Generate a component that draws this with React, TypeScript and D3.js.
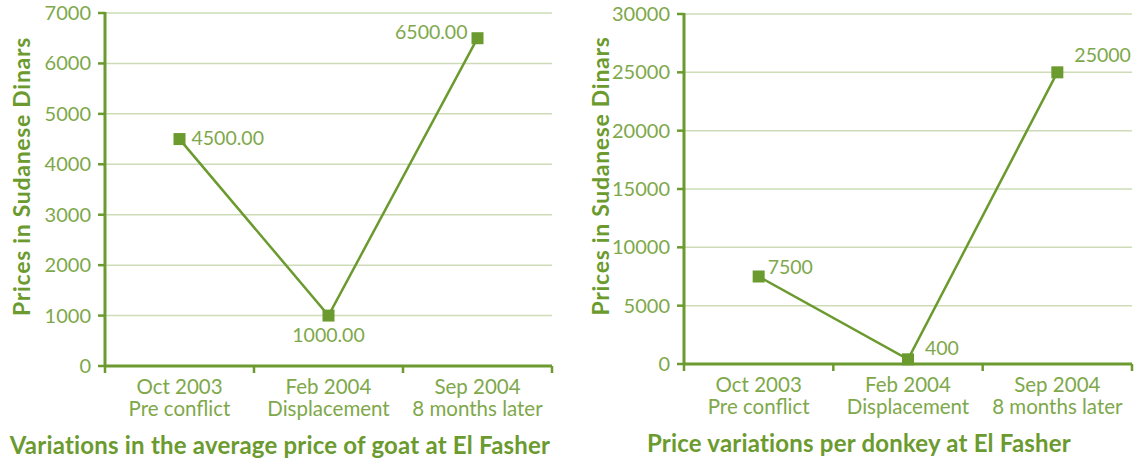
import React from "react";
import * as d3 from "d3";

const periods = ["Oct 2003", "Feb 2004", "Sep 2004"];
const phases = ["Pre conflict", "Displacement", "8 months later"];

const goatPrices = [4500, 1000, 6500];
const goatTicks = [0, 1000, 2000, 3000, 4000, 5000, 6000, 7000];

const donkeyPrices = [7500, 400, 25000];
const donkeyTicks = [0, 5000, 10000, 15000, 20000, 25000, 30000];

const DARK = "#6b9a2e";
const LIGHT = "#7ea84a";
const GRID = "#cddcb6";
const FONT = "Lato, 'Open Sans', sans-serif";

type LabelPos = { dx: number; dy: number; anchor: string };

type PanelProps = {
  values: number[];
  ticks: number[];
  yMax: number;
  fmt: (v: number) => string;
  labelPos: LabelPos[];
  x0: number;
  x1: number;
  y0: number;
  y1: number;
  cx: number;
  title: string;
};

const Panel = ({ values, ticks, yMax, fmt, labelPos, x0, x1, y0, y1, cx, title }: PanelProps) => {
  const x = d3.scaleBand<string>().domain(periods).range([x0, x1]);
  const y = d3.scaleLinear().domain([0, yMax]).range([y0, y1]);
  const pts: [number, number][] = values.map((v, i) => [x(periods[i])! + x.bandwidth() / 2, y(v)]);
  const line = d3.line();

  return (
    <g>
      {/* gridlines */}
      {ticks.filter((t) => t > 0).map((t) => (
        <line key={t} x1={x0} x2={x1} y1={y(t)} y2={y(t)} stroke={GRID} strokeWidth={1.5} />
      ))}
      {/* y ticks */}
      {ticks.map((t) => (
        <g key={"yt" + t}>
          <line x1={x0 - 7} x2={x0} y1={y(t)} y2={y(t)} stroke={DARK} strokeWidth={2.5} />
          <text x={x0 - 14} y={y(t)} dy="0.35em" textAnchor="end" fill={LIGHT} fontSize={20} fontFamily={FONT}>
            {t}
          </text>
        </g>
      ))}
      {/* x ticks */}
      {[...periods.map((p) => x(p)!), x1].map((px, i) => (
        <line key={"xt" + i} x1={px} x2={px} y1={y0} y2={y0 + 7} stroke={DARK} strokeWidth={2.5} />
      ))}
      {periods.map((p, i) => (
        <text key={p} x={x(p)! + x.bandwidth() / 2} textAnchor="middle" fill={LIGHT} fontSize={20.5} fontFamily={FONT}>
          <tspan x={x(p)! + x.bandwidth() / 2} y={y0 + 28}>{p}</tspan>
          <tspan x={x(p)! + x.bandwidth() / 2} y={y0 + 50}>{phases[i]}</tspan>
        </text>
      ))}
      {/* axes */}
      <line x1={x0} x2={x0} y1={y1 - 1} y2={y0} stroke={DARK} strokeWidth={3} />
      <line x1={x0} x2={x1} y1={y0} y2={y0} stroke={DARK} strokeWidth={3} />
      {/* series */}
      <path d={line(pts) ?? ""} fill="none" stroke={DARK} strokeWidth={2.5} />
      {pts.map(([px, py], i) => (
        <rect key={"m" + i} x={px - 6} y={py - 6} width={12} height={12} fill={DARK} />
      ))}
      {pts.map(([px, py], i) => (
        <text
          key={"l" + i}
          x={px + labelPos[i].dx}
          y={py + labelPos[i].dy}
          textAnchor={labelPos[i].anchor}
          fill={LIGHT}
          fontSize={19.5}
          fontFamily={FONT}
        >
          {fmt(values[i])}
        </text>
      ))}
      {/* axis title */}
      <text
        transform={`translate(${x0 - 75},${(y0 + y1) / 2 - 13}) rotate(-90)`}
        textAnchor="middle"
        fill={DARK}
        fontSize={23}
        fontWeight="bold"
        letterSpacing={0.7}
        fontFamily={FONT}
      >
        Prices in Sudanese Dinars
      </text>
      <text x={cx} y={y0 + 88} textAnchor="middle" fill={DARK} fontSize={24} fontWeight="bold" letterSpacing={0.2} fontFamily={FONT}>
        {title}
      </text>
    </g>
  );
};

export default function App() {
  return (
    <svg width={1134} height={460} style={{ position: "absolute", left: 0, top: 0, background: "#fff" }}>
      <Panel
        values={goatPrices}
        ticks={goatTicks}
        yMax={7000}
        fmt={(v) => v.toFixed(2)}
        labelPos={[
          { dx: 12, dy: 6, anchor: "start" },
          { dx: 0, dy: 26, anchor: "middle" },
          { dx: -10, dy: 1, anchor: "end" },
        ]}
        x0={105}
        x1={552}
        y0={366}
        y1={13}
        cx={280}
        title="Variations in the average price of goat at El Fasher"
      />
      <Panel
        values={donkeyPrices}
        ticks={donkeyTicks}
        yMax={30000}
        fmt={(v) => String(v)}
        labelPos={[
          { dx: 9, dy: -3, anchor: "start" },
          { dx: 17, dy: -4, anchor: "start" },
          { dx: 17, dy: -10, anchor: "start" },
        ]}
        x0={684}
        x1={1132}
        y0={364}
        y1={14}
        cx={859}
        title="Price variations per donkey at El Fasher"
      />
    </svg>
  );
}
